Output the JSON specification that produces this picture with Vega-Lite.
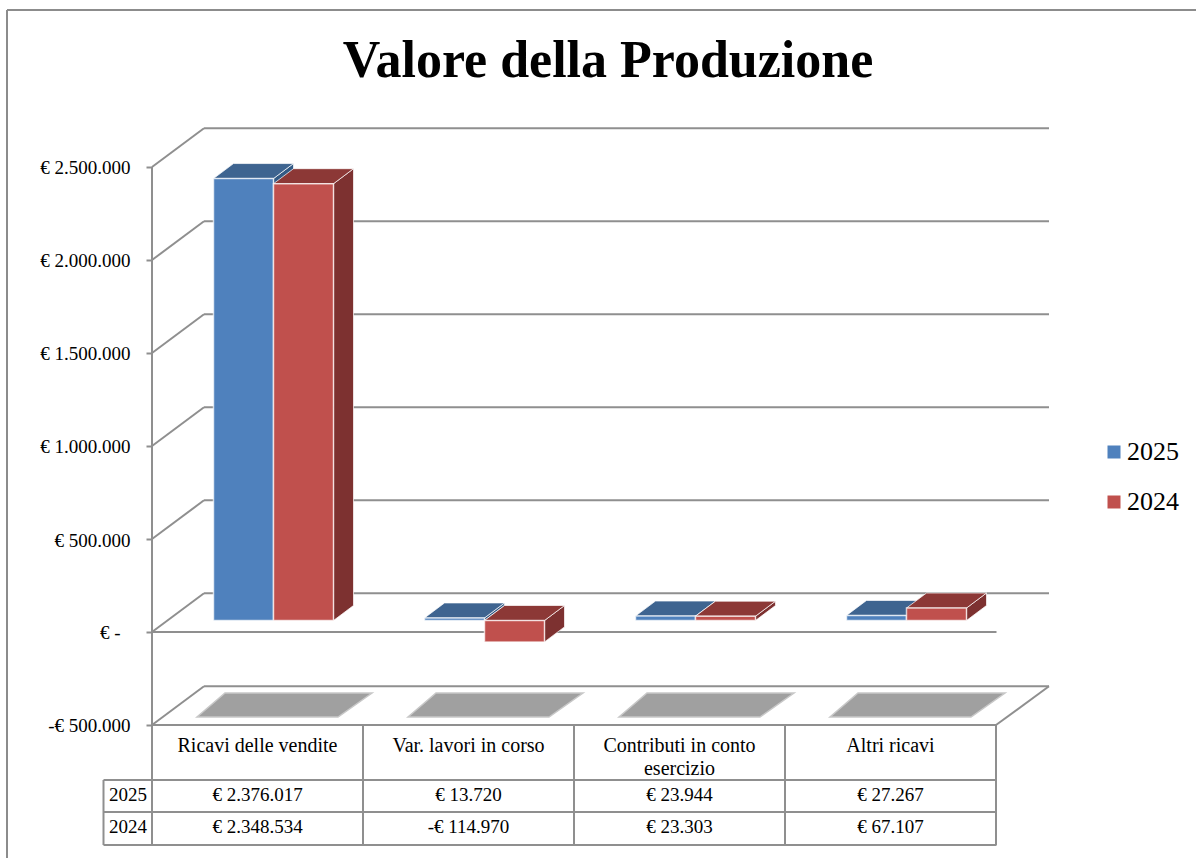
{
"$schema":"https://vega.github.io/schema/vega-lite/v6.json",
"autosize":"none","padding":{"left":7,"top":10,"right":0,"bottom":0},
"width":1189,"height":848,"background":"white",
"view":{"stroke":null},
"title":{"text":"Valore della Produzione","font":"Liberation Serif","fontWeight":"bold","fontSize":52,"color":"#000000","anchor":"middle","dx":6.5,"dy":54,"offset":-66,"baseline":"alphabetic"},
"config":{"font":"Liberation Serif","axis":{"title":null},"text":{"font":"Liberation Serif"}},
"resolve":{"axis":{"x":"independent","y":"independent"}},
"datasets":{
"bars":[
{"categoria":"Ricavi delle vendite","serie":"2025","valore":2376017,"etichetta":"€ 2.376.017"},
{"categoria":"Var. lavori in corso","serie":"2025","valore":13720,"etichetta":"€ 13.720"},
{"categoria":"Contributi in conto esercizio","serie":"2025","valore":23944,"etichetta":"€ 23.944"},
{"categoria":"Altri ricavi","serie":"2025","valore":27267,"etichetta":"€ 27.267"},
{"categoria":"Ricavi delle vendite","serie":"2024","valore":2348534,"etichetta":"€ 2.348.534"},
{"categoria":"Var. lavori in corso","serie":"2024","valore":-114970,"etichetta":"-€ 114.970"},
{"categoria":"Contributi in conto esercizio","serie":"2024","valore":23303,"etichetta":"€ 23.303"},
{"categoria":"Altri ricavi","serie":"2024","valore":67107,"etichetta":"€ 67.107"}],
"ticks":[{"v":2500000},{"v":2000000},{"v":1500000},{"v":1000000},{"v":500000},{"v":0},{"v":-500000}],
"cats":[{"categoria":"Ricavi delle vendite"},{"categoria":"Var. lavori in corso"},{"categoria":"Contributi in conto esercizio"},{"categoria":"Altri ricavi"}]
},
"layer":[
{"data":{"name":"ticks"},
 "mark":{"type":"rule","stroke":"#8f8f8f","strokeWidth":2,"xOffset":-53.5,"x2Offset":158.5,"yOffset":-38.7},
 "encoding":{
  "x":{"datum":"Ricavi delle vendite","type":"nominal","scale":{"domain":["Ricavi delle vendite","Var. lavori in corso","Contributi in conto esercizio","Altri ricavi"],"range":[145,989],"paddingInner":0,"paddingOuter":0},
   "axis":{"title":null,"orient":"bottom","offset":-133,"domain":false,"ticks":false,"labelAngle":0,"labelBaseline":"top","labelAlign":"center","labelFont":"Liberation Serif","labelFontSize":20,"labelColor":"#000000","labelPadding":10,"labelLimit":0,"labelLineHeight":23,"labelExpr":"datum.label=='Contributi in conto esercizio'?['Contributi in conto','esercizio']:datum.label"}},
  "x2":{"datum":"Altri ricavi"},
  "y":{"field":"v","type":"quantitative","scale":{"domain":[-1215054,3344086],"zero":false,"nice":false},
   "axis":{"title":null,"orient":"left","offset":-145,"values":[2500000,2000000,1500000,1000000,500000,0,-500000],"domain":false,"grid":false,"tickSize":6,"tickWidth":2,"tickColor":"#8f8f8f","labelFont":"Liberation Serif","labelFontSize":19,"labelColor":"#000000","labelOffset":1,"labelPadding":{"condition":{"test":"datum.value===0","value":26},"value":16},"labelExpr":"datum.value==0?'€ -':(datum.value<0?'-':'')+'€ '+replace(format(abs(datum.value),','),/,/g,'.')"}}}},
{"data":{"values":[{"v":3344086,"w":-1215054}]},
 "mark":{"type":"rule","stroke":"#8c8c8c","strokeWidth":2,"xOffset":-250.5},
 "encoding":{"x":{"datum":"Ricavi delle vendite","type":"nominal","axis":null},"y":{"field":"v","type":"quantitative","axis":null},"y2":{"field":"w"}}},
{"data":{"values":[{"v":3344086}]},
 "mark":{"type":"rule","stroke":"#8c8c8c","strokeWidth":2,"xOffset":-250.5,"x2Offset":305.5},
 "encoding":{"x":{"datum":"Ricavi delle vendite","type":"nominal","axis":null},"x2":{"datum":"Altri ricavi"},"y":{"field":"v","type":"quantitative","axis":null}}},
{"data":{"name":"ticks"},
 "mark":{"type":"rule","stroke":"#8f8f8f","strokeWidth":2,"xOffset":-105.5,"x2Offset":-53.5,"y2Offset":-38.7},
 "encoding":{"x":{"datum":"Ricavi delle vendite","type":"nominal","axis":null},"x2":{"datum":"Ricavi delle vendite"},"y":{"field":"v","type":"quantitative","axis":null},"y2":{"field":"v"}}},
{"data":{"values":[{"a":2500000,"b":-500000}]},
 "mark":{"type":"rule","stroke":"#8f8f8f","strokeWidth":2,"xOffset":-105.5},
 "encoding":{"x":{"datum":"Ricavi delle vendite","type":"nominal","axis":null},"y":{"field":"a","type":"quantitative","axis":null},"y2":{"field":"b"}}},
{"data":{"values":[{"v":0},{"v":-500000}]},
 "mark":{"type":"rule","stroke":"#8f8f8f","strokeWidth":2,"xOffset":-105.5,"x2Offset":106},
 "encoding":{"x":{"datum":"Ricavi delle vendite","type":"nominal","axis":null},"x2":{"datum":"Altri ricavi"},"y":{"field":"v","type":"quantitative","axis":null}}},
{"data":{"values":[{"v":-500000}]},
 "mark":{"type":"rule","stroke":"#8f8f8f","strokeWidth":2,"xOffset":105.5,"x2Offset":158.5,"y2Offset":-38.7},
 "encoding":{"x":{"datum":"Altri ricavi","type":"nominal","axis":null},"x2":{"datum":"Altri ricavi"},"y":{"field":"v","type":"quantitative","axis":null},"y2":{"field":"v"}}},
{"data":{"name":"cats"},
 "mark":{"type":"point","filled":true,"opacity":1,"size":4,"shape":"M-60.5,-8 L80.5,-8 L114.5,-32 L-32.5,-32 Z","fill":"#a0a0a0","stroke":"#c8c8c8","strokeWidth":1.5},
 "encoding":{"x":{"field":"categoria","type":"nominal","axis":null},"y":{"datum":-500000,"type":"quantitative","axis":null}}},
{"data":{"name":"cats"},
 "mark":{"type":"rule","stroke":"#8f8f8f","strokeWidth":2,"xOffset":-105.5,"y2Offset":120},
 "encoding":{"x":{"field":"categoria","type":"nominal","axis":null},"y":{"datum":-500000,"type":"quantitative","axis":null},"y2":{"datum":-500000}}},
{"data":{"values":[{"v":-500000}]},
 "mark":{"type":"rule","stroke":"#8f8f8f","strokeWidth":2,"xOffset":105.5,"y2Offset":120},
 "encoding":{"x":{"datum":"Altri ricavi","type":"nominal","axis":null},"y":{"field":"v","type":"quantitative","axis":null},"y2":{"field":"v"}}},
{"data":{"values":[{"v":-500000}]},
 "mark":{"type":"rule","stroke":"#8f8f8f","strokeWidth":2,"xOffset":-154,"yOffset":55,"y2Offset":120},
 "encoding":{"x":{"datum":"Ricavi delle vendite","type":"nominal","axis":null},"y":{"field":"v","type":"quantitative","axis":null},"y2":{"field":"v"}}},
{"data":{"values":[{"v":-500000}]},
 "mark":{"type":"rule","stroke":"#8f8f8f","strokeWidth":2,"xOffset":-154,"x2Offset":106,"yOffset":55},
 "encoding":{"x":{"datum":"Ricavi delle vendite","type":"nominal","axis":null},"x2":{"datum":"Altri ricavi"},"y":{"field":"v","type":"quantitative","axis":null}}},
{"data":{"values":[{"v":-500000}]},
 "mark":{"type":"rule","stroke":"#8f8f8f","strokeWidth":2,"xOffset":-154,"x2Offset":106,"yOffset":87},
 "encoding":{"x":{"datum":"Ricavi delle vendite","type":"nominal","axis":null},"x2":{"datum":"Altri ricavi"},"y":{"field":"v","type":"quantitative","axis":null}}},
{"data":{"values":[{"v":-500000}]},
 "mark":{"type":"rule","stroke":"#8f8f8f","strokeWidth":2,"xOffset":-154,"x2Offset":106,"yOffset":120},
 "encoding":{"x":{"datum":"Ricavi delle vendite","type":"nominal","axis":null},"x2":{"datum":"Altri ricavi"},"y":{"field":"v","type":"quantitative","axis":null}}},

{"data":{"name":"bars"},"transform":[{"filter":"datum.serie=='2025'"}],
 "mark":{"type":"point","filled":true,"opacity":1,"size":4,"fill":"#325a85","xOffset":-14,"yOffset":-11.5,"stroke":"#ffffff","strokeOpacity":0.7,"strokeWidth":1},
 "encoding":{"x":{"field":"categoria","type":"nominal","axis":null},"y":{"datum":0,"type":"quantitative","axis":null},
  "shape":{"field":"etichetta","type":"nominal","legend":null,"scale":{"domain":["€ 2.376.017","€ 13.720","€ 23.944","€ 27.267","€ 2.348.534","-€ 114.970","€ 23.303","€ 67.107"],"range":["M30,0 L50,-15 L50,-457 L30,-442 Z","M30,0 L50,-15 L50,-17.6 L30,-2.6 Z","M30,0 L50,-15 L50,-19.5 L30,-4.5 Z","M30,0 L50,-15 L50,-20.1 L30,-5.1 Z","M30,0 L50,-15 L50,-451.8 L30,-436.8 Z","M30,0 L50,-15 L50,6.4 L30,21.4 Z","M30,0 L50,-15 L50,-19.3 L30,-4.3 Z","M30,0 L50,-15 L50,-27.5 L30,-12.5 Z"]}}}},
{"data":{"name":"bars"},"transform":[{"filter":"datum.serie=='2025'"}],
 "mark":{"type":"point","filled":true,"opacity":1,"size":4,"fill":"#3e6490","xOffset":-14,"yOffset":-11.5,"shape":"M-30,0 L30,0 L50,-15 L-10,-15 Z","stroke":"#ffffff","strokeOpacity":0.7,"strokeWidth":1},
 "encoding":{"x":{"field":"categoria","type":"nominal","axis":null},"y":{"field":"valore","type":"quantitative","axis":null}}},
{"data":{"name":"bars"},"transform":[{"filter":"datum.serie=='2024'"}],
 "mark":{"type":"point","filled":true,"opacity":1,"size":4,"fill":"#7d3130","xOffset":46,"yOffset":-11.5,"stroke":"#ffffff","strokeOpacity":0.7,"strokeWidth":1},
 "encoding":{"x":{"field":"categoria","type":"nominal","axis":null},"y":{"datum":0,"type":"quantitative","axis":null},
  "shape":{"field":"etichetta","type":"nominal","legend":null}}},
{"data":{"name":"bars"},"transform":[{"filter":"datum.serie=='2024' && datum.valore>=0"}],
 "mark":{"type":"point","filled":true,"opacity":1,"size":4,"fill":"#8c3836","xOffset":46,"yOffset":-11.5,"shape":"M-30,0 L30,0 L50,-15 L-10,-15 Z","stroke":"#ffffff","strokeOpacity":0.7,"strokeWidth":1},
 "encoding":{"x":{"field":"categoria","type":"nominal","axis":null},"y":{"field":"valore","type":"quantitative","axis":null}}},
{"data":{"name":"bars"},"transform":[{"filter":"datum.serie=='2024' && datum.valore<0"}],
 "mark":{"type":"point","filled":true,"opacity":1,"size":4,"fill":"#8c3836","xOffset":46,"yOffset":-11.5,"shape":"M-30,0 L30,0 L50,-15 L-10,-15 Z","stroke":"#ffffff","strokeOpacity":0.7,"strokeWidth":1},
 "encoding":{"x":{"field":"categoria","type":"nominal","axis":null},"y":{"datum":0,"type":"quantitative","axis":null}}},
{"data":{"name":"bars"},"transform":[{"filter":"datum.serie=='2025'"}],
 "mark":{"type":"rect","width":60,"xOffset":-14,"yOffset":-11.5,"y2Offset":-11.5,"stroke":"#ffffff","strokeOpacity":0.7,"strokeWidth":1.5},
 "encoding":{"x":{"field":"categoria","type":"nominal","axis":null},"y":{"field":"valore","type":"quantitative","axis":null},"y2":{"datum":0},
  "color":{"field":"serie","type":"nominal","scale":{"domain":["2025","2024"],"range":["#4f81bd","#c0504d"]},
   "legend":{"orient":"none","legendX":1094,"legendY":429,"title":null,"symbolType":"square","symbolSize":169,"symbolStrokeWidth":0,"labelFont":"Liberation Serif","labelFontSize":26,"labelColor":"#000000","rowPadding":24,"labelOffset":0,"padding":0}}}},
{"data":{"name":"bars"},"transform":[{"filter":"datum.serie=='2024'"}],
 "mark":{"type":"rect","width":60,"xOffset":46,"yOffset":-11.5,"y2Offset":-11.5,"stroke":"#ffffff","strokeOpacity":0.7,"strokeWidth":1.5},
 "encoding":{"x":{"field":"categoria","type":"nominal","axis":null},"y":{"field":"valore","type":"quantitative","axis":null},"y2":{"datum":0},
  "color":{"field":"serie","type":"nominal"}}},
{"data":{"name":"bars"},"transform":[{"filter":"datum.serie=='2025'"}],
 "mark":{"type":"text","fontSize":19,"color":"#000000","baseline":"middle","align":"center","yOffset":70},
 "encoding":{"x":{"field":"categoria","type":"nominal","axis":null},"y":{"datum":-500000,"type":"quantitative","axis":null},"text":{"field":"etichetta"}}},
{"data":{"name":"bars"},"transform":[{"filter":"datum.serie=='2024'"}],
 "mark":{"type":"text","fontSize":19,"color":"#000000","baseline":"middle","align":"center","yOffset":102},
 "encoding":{"x":{"field":"categoria","type":"nominal","axis":null},"y":{"datum":-500000,"type":"quantitative","axis":null},"text":{"field":"etichetta"}}},
{"data":{"name":"bars"},"transform":[{"filter":"datum.serie=='2025' && datum.categoria=='Ricavi delle vendite'"}],
 "mark":{"type":"text","fontSize":19,"color":"#000000","baseline":"middle","align":"center","xOffset":-129.5,"yOffset":70},
 "encoding":{"x":{"field":"categoria","type":"nominal","axis":null},"y":{"datum":-500000,"type":"quantitative","axis":null},"text":{"field":"serie"}}},
{"data":{"name":"bars"},"transform":[{"filter":"datum.serie=='2024' && datum.categoria=='Ricavi delle vendite'"}],
 "mark":{"type":"text","fontSize":19,"color":"#000000","baseline":"middle","align":"center","xOffset":-129.5,"yOffset":102},
 "encoding":{"x":{"field":"categoria","type":"nominal","axis":null},"y":{"datum":-500000,"type":"quantitative","axis":null},"text":{"field":"serie"}}}
]
}
